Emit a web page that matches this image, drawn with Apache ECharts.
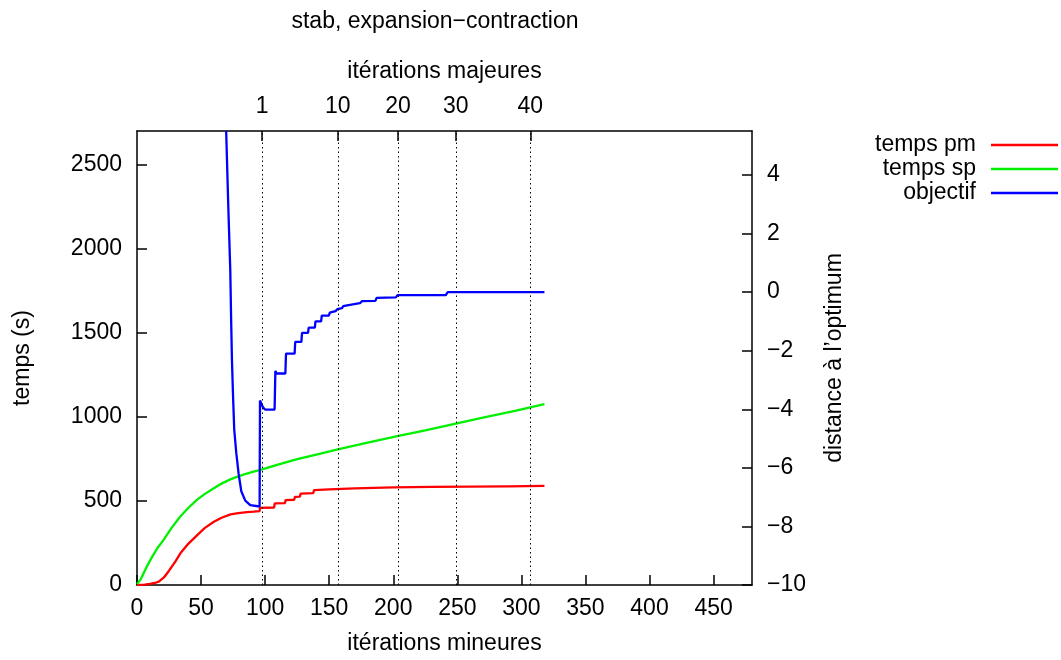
<!DOCTYPE html>
<html>
<head>
<meta charset="utf-8">
<script src="https://cdn.jsdelivr.net/npm/echarts@6/dist/echarts.min.js"></script>
<style>
  html, body { margin: 0; padding: 0; background: #fff; }
  #chart { width: 1061px; height: 660px; }
</style>
</head>
<body>
<div id="chart"></div>
<script>
// minor iteration, temps pm (s)
const tempsPm = [
  [0, 0], [6, 2], [10, 6], [14, 12], [17, 20], [21, 45], [25, 85], [30, 140], [34, 190],
  [40, 245], [47, 297], [53, 340], [60, 376], [66, 400], [73, 420], [79, 428], [86, 433],
  [91, 436], [95.7, 439], [96, 459], [107, 461], [107.5, 485], [115.5, 487], [116, 505],
  [122.7, 507], [123.2, 524], [127.2, 526], [127.7, 544], [137.5, 546], [138.2, 564],
  [150, 569], [170, 575], [200, 581], [230, 583], [260, 585], [290, 587], [318, 589]
]
// minor iteration, temps sp (s)
const tempsSp = [
  [0, 5], [3, 35], [7.6, 109], [12, 170], [16, 220], [20.6, 267], [27, 340], [33.6, 406],
  [40, 458], [46.7, 506], [53, 542], [59.7, 574], [66, 603], [72.8, 628], [79, 646],
  [85.8, 663], [91, 674], [95.7, 683], [110, 716], [125, 748], [140, 776], [156.7, 807],
  [180, 846], [203.2, 885], [225, 920], [248.8, 960], [270, 995], [295, 1035], [318, 1075]
]
// minor iteration, distance to optimum
const objectif = [
  [69.6, 5.5], [71.2, 3.0], [72.8, 0.75], [73.5, -1.0], [74.1, -2.3], [75, -3.6], [75.9, -4.7],
  [77.5, -5.5], [79.3, -6.2], [81.4, -6.8], [84.5, -7.12], [88.4, -7.27], [95.7, -7.32],
  [96, -3.7], [98.3, -3.93], [100, -4.01], [107.4, -4.01], [108, -2.69], [109, -2.78],
  [115.8, -2.78], [116.3, -2.1], [123, -2.1], [123.5, -1.7], [128.3, -1.7], [128.8, -1.39],
  [133.5, -1.39], [134, -1.21], [138.8, -1.21], [139.3, -1.0], [143.7, -1.0], [144.2, -0.8],
  [149.7, -0.8], [150.5, -0.7], [155, -0.65], [156.5, -0.58], [160, -0.55], [161, -0.48],
  [164, -0.45], [165, -0.39], [174, -0.38], [175.5, -0.31], [186, -0.3], [187, -0.2],
  [202, -0.18], [203.5, -0.1], [241, -0.1], [242.5, 0], [318, 0]
]
// major iterations (top axis) and where they fall in minor iterations
const majorPos = [97.6, 156.7, 203.7, 248.8, 307.0]
const majorLabels = ['1', '10', '20', '30', '40']

const FONT = 'Liberation Sans, Arial, Helvetica, sans-serif'
const FS = 23
const axisLine = { show: true, onZero: false, lineStyle: { color: '#000', width: 1.5 } }
const tick = { show: true, inside: true, length: 10, lineStyle: { color: '#000', width: 1.5 } }
const label = { color: '#000', fontSize: FS, fontFamily: FONT }
const nameStyle = { color: '#000', fontSize: FS, fontFamily: FONT }
const plain = v => String(v).replace('-', '\u2212')

const chart = echarts.init(document.getElementById('chart'))
chart.setOption({
  animation: false,
  backgroundColor: '#fff',
  title: {
    text: 'stab, expansion\u2212contraction',
    left: 430, top: 5, textAlign: 'center',
    textStyle: { color: '#000', fontSize: FS, fontWeight: 'normal', fontFamily: FONT }
  },
  legend: {
    orient: 'vertical', right: 3, top: 133, align: 'right', padding: 0,
    icon: 'rect', itemWidth: 67, itemHeight: 2.5, itemGap: 0,
    textStyle: { color: '#000', fontSize: FS, fontFamily: FONT, lineHeight: 24, padding: [0, 10, 0, 0] },
    data: ['temps pm', 'temps sp', 'objectif']
  },
  grid: { left: 137, right: 309, top: 131, bottom: 75 },
  xAxis: [
    {
      type: 'value', position: 'bottom', min: 0, max: 480, interval: 50,
      name: 'it\u00e9rations mineures', nameLocation: 'middle', nameGap: 47, nameTextStyle: nameStyle,
      axisLine, axisTick: tick,
      axisLabel: Object.assign({ margin: 12, showMaxLabel: false, formatter: plain }, label),
      splitLine: { show: false }
    },
    {
      type: 'value', position: 'top', min: 0, max: 480,
      name: 'it\u00e9rations majeures', nameLocation: 'middle', nameGap: 48, nameTextStyle: nameStyle,
      axisLine,
      axisTick: Object.assign({ customValues: majorPos }, tick),
      axisLabel: Object.assign({
        margin: 13, customValues: majorPos,
        formatter: v => {
          let best = 0
          majorPos.forEach((p, i) => { if (Math.abs(p - v) < Math.abs(majorPos[best] - v)) best = i })
          return majorLabels[best]
        }
      }, label),
      splitLine: { show: false }
    }
  ],
  yAxis: [
    {
      type: 'value', position: 'left', min: 0, max: 2700, interval: 500,
      name: 'temps (s)', nameLocation: 'middle', nameGap: 103, nameRotate: 90, nameTextStyle: nameStyle,
      axisLine, axisTick: tick,
      axisLabel: Object.assign({ margin: 15, showMaxLabel: false, formatter: plain }, label),
      splitLine: { show: false }
    },
    {
      type: 'value', position: 'right', min: -10, max: 5.5, interval: 2,
      name: 'distance \u00e0 l\u2019optimum', nameLocation: 'middle', nameGap: 71, nameRotate: 90, nameTextStyle: nameStyle,
      axisLine, axisTick: tick,
      axisLabel: Object.assign({ margin: 15, showMaxLabel: false, formatter: plain }, label),
      splitLine: { show: false }
    }
  ],
  series: [
    {
      name: 'temps pm', type: 'line', xAxisIndex: 0, yAxisIndex: 0, data: tempsPm,
      symbol: 'none', color: '#ff0000', lineStyle: { width: 2.3 }, z: 3,
      markLine: {
        silent: true, symbol: ['none', 'none'], label: { show: false },
        lineStyle: { color: '#000', type: [1.5, 3], width: 1 },
        data: majorPos.map(p => ({ xAxis: p }))
      }
    },
    {
      name: 'temps sp', type: 'line', xAxisIndex: 0, yAxisIndex: 0, data: tempsSp,
      symbol: 'none', color: '#00f000', lineStyle: { width: 2.3 }, z: 3
    },
    {
      name: 'objectif', type: 'line', xAxisIndex: 0, yAxisIndex: 1, data: objectif,
      symbol: 'none', color: '#0000ff', lineStyle: { width: 2.3 }, z: 4, clip: true
    }
  ]
})
</script>
</body>
</html>
